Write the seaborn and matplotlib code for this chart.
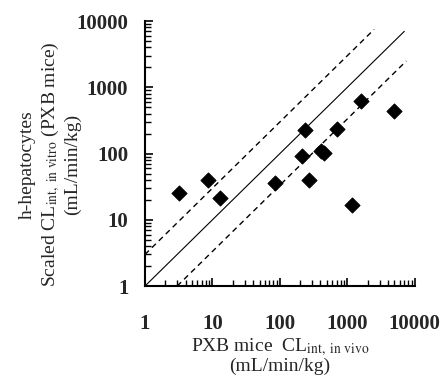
import numpy as np
import matplotlib
matplotlib.use('Agg')
import matplotlib.pyplot as plt
import pandas as pd
import seaborn as sns
from matplotlib.ticker import FixedLocator, NullFormatter

# PXB mice CLint in vivo vs h-hepatocytes scaled CLint in vitro
pxb_invivo = [3.2, 8.5, 12.9, 85, 212, 235, 269, 405, 449, 692, 1154, 1600, 5000]
hep_invitro = [25, 40, 21, 36, 93, 224, 40, 109, 102, 234, 16.5, 630, 433]

# unity line and 3-fold lines
unity_x = [1, 7000]
unity_y = [1, 7000]
upper_x = [1, 2500]
upper_y = [3, 7500]
lower_x = [3, 7500]
lower_y = [1, 2500]

ticks = [1, 10, 100, 1000, 10000]
tick_labels = ['1', '10', '100', '1000', '10000']

df = pd.DataFrame({'x': pxb_invivo, 'y': hep_invitro})

sns.set_style('ticks', {'xtick.direction': 'in', 'ytick.direction': 'in'})
plt.rcParams['font.family'] = ['Liberation Serif', 'DejaVu Serif']
plt.rcParams['mathtext.fontset'] = 'stix'
plt.rcParams['xtick.minor.size'] = 4
plt.rcParams['ytick.minor.size'] = 4
plt.rcParams['xtick.minor.width'] = 1
plt.rcParams['ytick.minor.width'] = 1

fig = plt.figure(figsize=(4.46, 3.83), dpi=100)
ax = fig.add_axes([0.325, 0.253, 0.605, 0.692])

ax.plot(unity_x, unity_y, color='black', lw=0.8)
ax.plot(upper_x, upper_y, color='black', lw=1.0, ls=(0, (4, 3)))
ax.plot(lower_x, lower_y, color='black', lw=1.0, ls=(0, (4, 3)))

sns.scatterplot(data=df, x='x', y='y', marker='D', s=60, color='black',
                edgecolor='black', ax=ax, zorder=3)

ax.set_xscale('log')
ax.set_yscale('log')
ax.set_xlim(1, 10000)
ax.set_ylim(1, 10000)
minor = [m * 10 ** e for e in range(4) for m in range(2, 10)]
ax.set_xticks(ticks)
ax.set_yticks(ticks)
ax.set_xticks(minor, minor=True)
ax.set_yticks(minor, minor=True)
ax.xaxis.set_minor_formatter(NullFormatter())
ax.yaxis.set_minor_formatter(NullFormatter())
ax.set_xticklabels(tick_labels, fontsize=15, fontweight='bold')
ax.set_yticklabels(tick_labels, fontsize=15, fontweight='bold')
ax.tick_params(axis='both', which='major', direction='in', length=6, width=1.2, color='black')
ax.tick_params(axis='both', which='minor', direction='in', length=4, width=1,
               color='black')
ax.tick_params(axis='x', which='major', pad=20)
ax.tick_params(axis='y', which='major', pad=12)

sns.despine(ax=ax)
for sp in ['left', 'bottom']:
    ax.spines[sp].set_color('black')
    ax.spines[sp].set_linewidth(1.5)

ax.set_xlabel('PXB mice  CL$_{\\mathrm{int,\\ in\\ vivo}}$\n(mL/min/kg)', fontsize=14,
              linespacing=0.95, labelpad=2)
ax.set_ylabel('h-hepatocytes\nScaled CL$_{\\mathrm{int,\\ in\\ vitro}}$ (PXB mice)\n(mL/min/kg)',
              fontsize=14, linespacing=1.2)
ax.yaxis.set_label_coords(-0.235, 0.46)

fig.savefig('out.png', dpi=100)
